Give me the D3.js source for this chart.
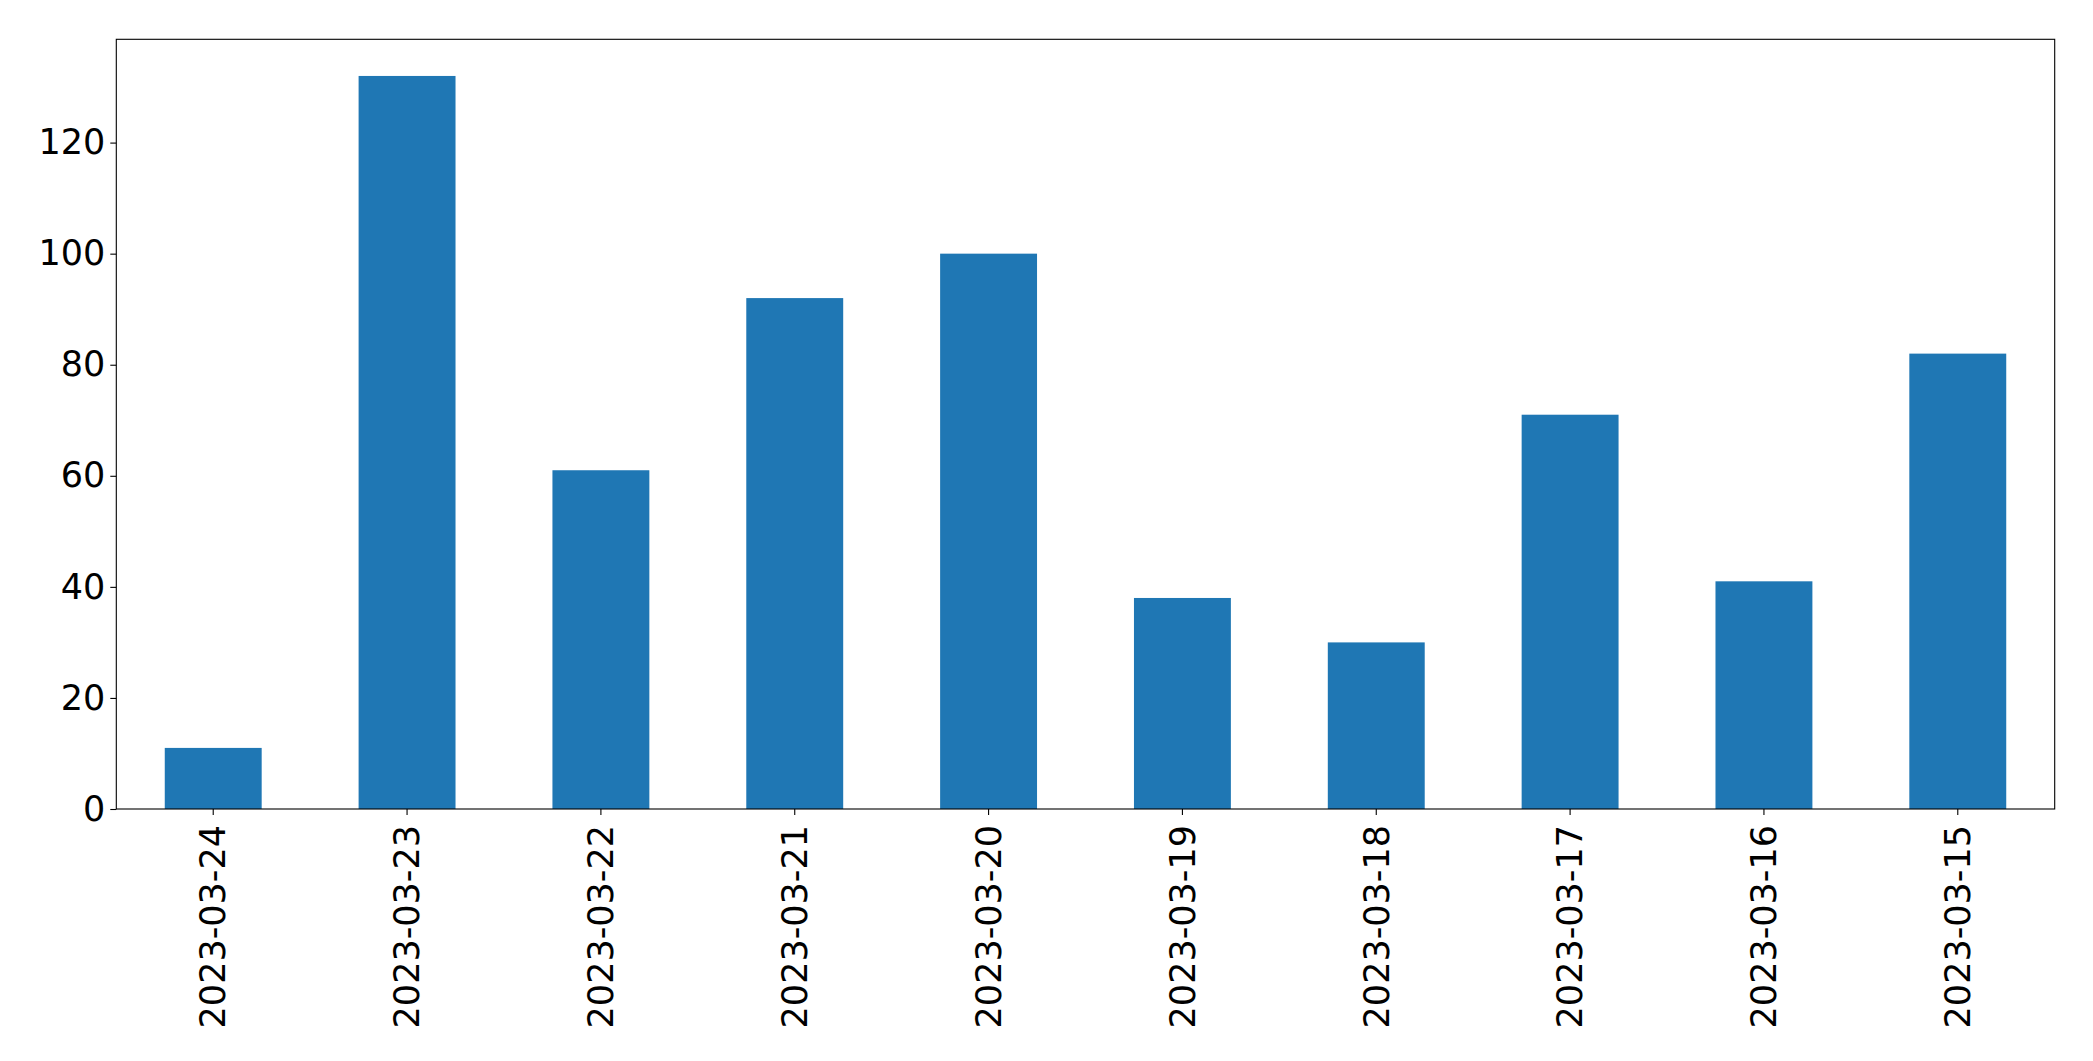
<!DOCTYPE html>
<html><head><meta charset="utf-8">
<script src="https://cdn.jsdelivr.net/npm/d3@7"></script>
<style>html,body{margin:0;padding:0;background:#fff;}svg{display:block;}</style>
</head><body>
<script>
const categories = ["2023-03-24","2023-03-23","2023-03-22","2023-03-21","2023-03-20","2023-03-19","2023-03-18","2023-03-17","2023-03-16","2023-03-15"];
const values = [11,132,61,92,100,38,30,71,41,82];
const yTicks = [0,20,40,60,80,100,120];

const W = 2093, H = 1061;
const m = {left:116.3, right:2093-2054.7, top:39.3, bottom:1061-809};
const svg = d3.select("body").append("svg").attr("width",W).attr("height",H);
const pw = W-m.left-m.right, ph = H-m.top-m.bottom;
const g = svg.append("g").attr("transform",`translate(${m.left},${m.top})`);

const x = d3.scaleBand().domain(categories).range([0,pw]).paddingInner(0.5).paddingOuter(0.25);
const y = d3.scaleLinear().domain([0, d3.max(values)*1.05]).range([ph,0]);

g.selectAll("rect.bar").data(values).join("rect").attr("class","bar")
  .attr("x",(d,i)=>x(categories[i])).attr("width",x.bandwidth())
  .attr("y",d=>y(d)).attr("height",d=>y(0)-y(d)).attr("fill","#1f77b4");

const font = "DejaVu Sans";
const fs = 35;
const ya = g.append("g").call(d3.axisLeft(y).tickValues(yTicks).tickSize(6).tickPadding(5));
ya.select(".domain").remove();
ya.selectAll("text").attr("font-family",font).attr("font-size",fs).attr("fill","#000");
ya.selectAll("line").attr("stroke","#000").attr("stroke-width",1.1);

const xa = g.append("g").attr("transform",`translate(0,${ph})`).call(d3.axisBottom(x).tickSize(6).tickPadding(10));
xa.select(".domain").remove();
xa.selectAll("line").attr("stroke","#000").attr("stroke-width",1.1);
xa.selectAll("text").attr("font-family",font).attr("font-size",fs).attr("fill","#000")
  .attr("transform","rotate(-90)").attr("text-anchor","end").attr("dy","0.35em").attr("x",-16).attr("y",0);

g.append("rect").attr("x",0).attr("y",0).attr("width",pw).attr("height",ph)
  .attr("fill","none").attr("stroke","#000").attr("stroke-width",1.1);
</script>
</body></html>
